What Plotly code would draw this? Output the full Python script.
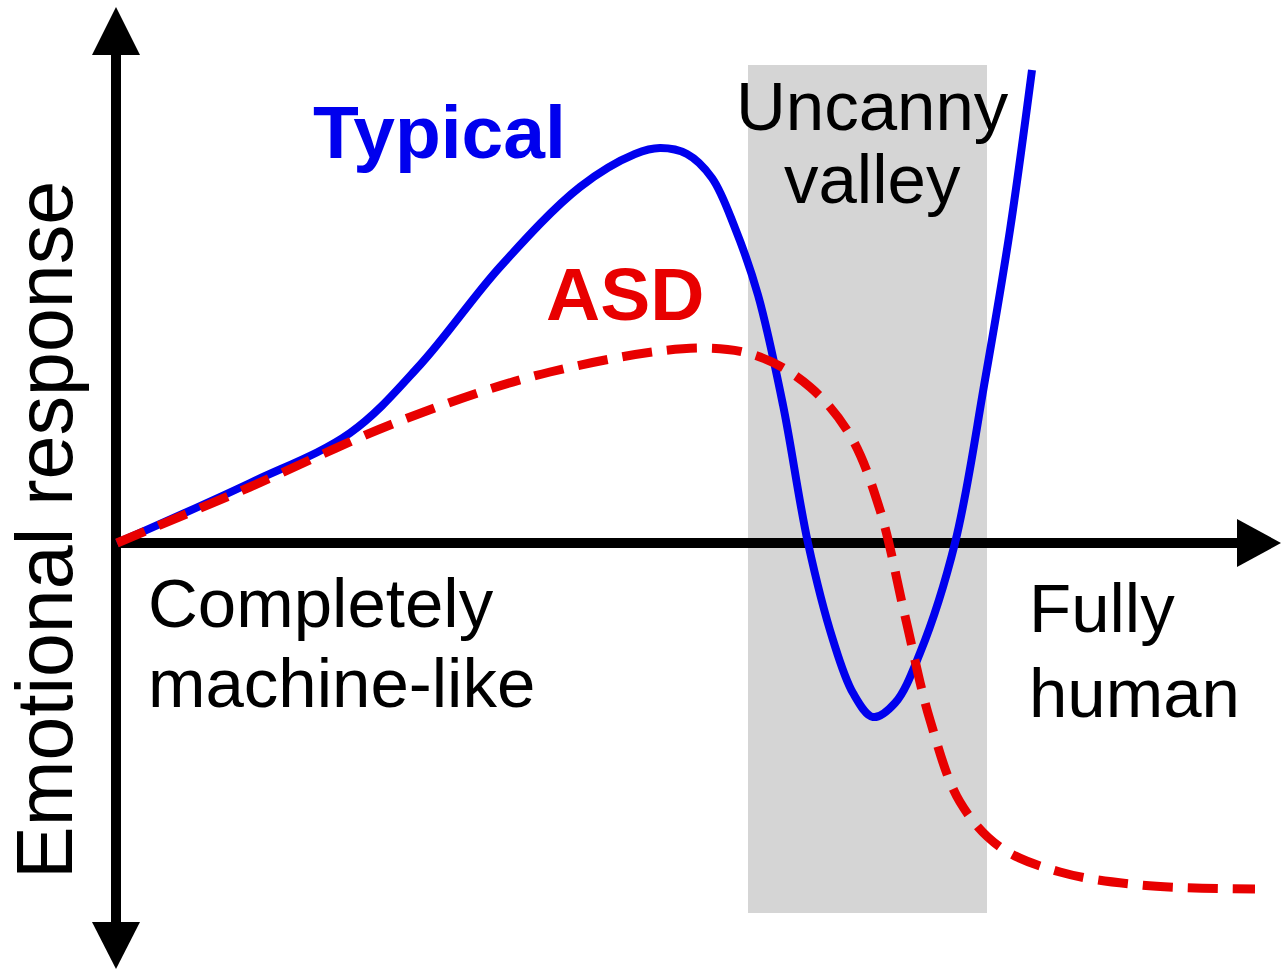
import plotly.graph_objects as go

# Curve data: x = human likeness, y = emotional response (0 at the origin)
typical_x = [0.0, 13.3, 23.3, 30.3, 38.3, 46.3, 51.8, 54.3, 57.0, 59.5, 61.8, 64.1, 66.6,
             69.1, 71.6, 73.6, 75.6, 77.8, 80.3, 83.8, 86.8, 89.3, 91.5]
typical_y = [0.0, 6.0, 11.0, 17.8, 27.6, 35.6, 38.9, 39.5, 38.9, 36.5, 31.5, 24.8, 13.8,
             0.0, -9.7, -15.0, -17.4, -16.0, -11.0, 0.0, 16.3, 31.3, 47.3]

asd_x = [0.0, 13.3, 28.3, 43.3, 58.3, 64.3, 69.3, 73.3, 76.3, 78.8, 81.3, 84.3, 88.3,
         94.3, 102.3, 113.8]
asd_y = [0.0, 5.6, 12.2, 17.1, 19.5, 18.6, 15.6, 10.8, 3.3, -7.3, -17.7, -25.9, -30.4,
         -32.9, -34.2, -34.6]

valley_range = [63.1, 87.0]

W, H = 1281, 971
OX, OY, SCALE = 117, 543, 10.0


def X(px):
    return (px - OX) / SCALE


def Y(py):
    return (OY - py) / SCALE


FONT = "Arial, 'Liberation Sans', sans-serif"

fig = go.Figure()

fig.add_trace(go.Scatter(
    x=typical_x, y=typical_y, mode="lines",
    line=dict(color="#0000ee", width=8, shape="spline", smoothing=1.0),
    hoverinfo="skip",
))
fig.add_trace(go.Scatter(
    x=asd_x, y=asd_y, mode="lines",
    line=dict(color="#e80000", width=9, shape="spline", smoothing=1.0, dash="30px,15px"),
    hoverinfo="skip",
))

shapes = []
# uncanny valley band
shapes.append(dict(type="rect", layer="below", x0=valley_range[0], x1=valley_range[1],
                   y0=Y(913), y1=Y(65), fillcolor="#d5d5d5", line=dict(width=0)))
# axes with arrowheads
ax = X(116)
shapes.append(dict(type="line", layer="below", x0=ax, x1=ax, y0=Y(50), y1=Y(927),
                   line=dict(color="black", width=10)))
shapes.append(dict(type="line", layer="below", x0=ax - 0.4, x1=X(1240), y0=0, y1=0,
                   line=dict(color="black", width=10)))


def tri(p1, p2, p3):
    return "M {} {} L {} {} L {} {} Z".format(X(p1[0]), Y(p1[1]), X(p2[0]), Y(p2[1]),
                                              X(p3[0]), Y(p3[1]))


for path in (tri((116, 7), (92, 55), (140, 55)),
             tri((116, 969), (92, 922), (140, 922)),
             tri((1281, 543), (1237, 519), (1237, 567))):
    shapes.append(dict(type="path", layer="below", path=path, fillcolor="black",
                       line=dict(width=0)))

annotations = []


def label(text, px, py, size, color="black", bold=False, xanchor="left", angle=0):
    annotations.append(dict(
        text="<b>{}</b>".format(text) if bold else text,
        x=X(px), y=Y(py), xref="x", yref="y", showarrow=False,
        xanchor=xanchor, yanchor="middle", textangle=angle,
        font=dict(family=FONT, size=size, color=color),
    ))


label("Typical", 311, 132, 75, color="#0000ee", bold=True)
label("ASD", 544, 294, 75, color="#e80000", bold=True)
label("Uncanny", 872, 106, 69, xanchor="center")
label("valley", 872, 179, 69, xanchor="center")
label("Completely", 146, 603, 69)
label("machine-like", 146, 683, 69)
label("Fully", 1027, 608, 69)
label("human", 1027, 693, 69)
label("Emotional response", 44, 530, 79, xanchor="center", angle=-90)

fig.update_layout(
    width=W, height=H,
    margin=dict(l=0, r=0, t=0, b=0),
    paper_bgcolor="white", plot_bgcolor="white",
    showlegend=False,
    xaxis=dict(range=[X(0), X(W)], visible=False, fixedrange=True),
    yaxis=dict(range=[Y(H), Y(0)], visible=False, fixedrange=True),
    shapes=shapes, annotations=annotations,
)

fig.write_html("out.html")
